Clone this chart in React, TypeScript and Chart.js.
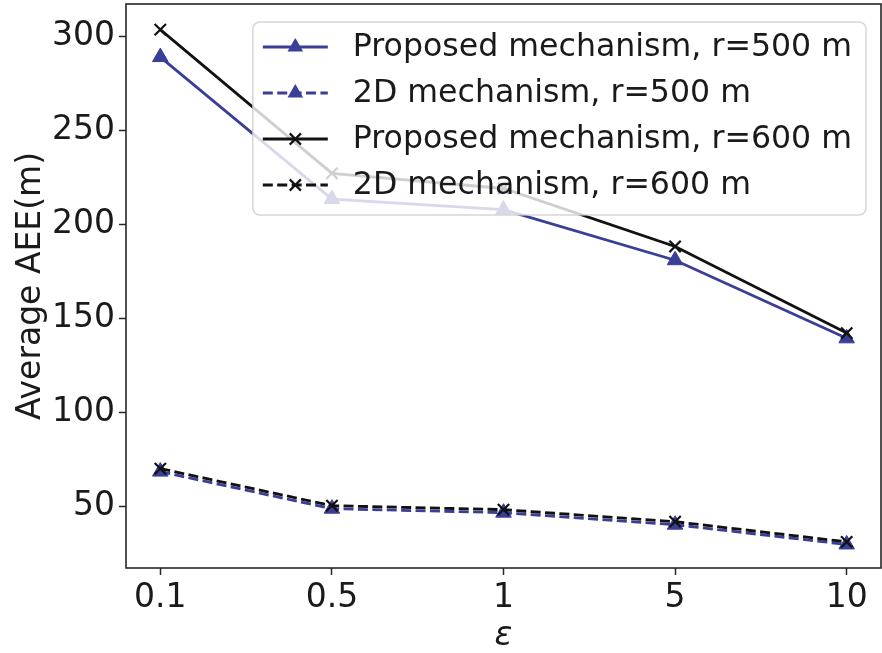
import { useEffect, useRef } from 'react';
import { Chart, registerables } from 'chart.js';

Chart.register(...registerables);

// Privacy budget values on the x axis
const EPSILON_LABELS = ['0.1', '0.5', '1', '5', '10'];

// Average AEE (m) for each mechanism / radius
const PROPOSED_R500 = [288.8, 213.4, 207.8, 180.9, 139.4];
const MECH2D_R500 = [68.6, 48.9, 46.8, 40.4, 29.9];
const PROPOSED_R600 = [303.4, 227.0, 219.0, 188.2, 142.2];
const MECH2D_R600 = [70.2, 50.5, 48.4, 42.0, 31.3];

const SERIES_NAMES = [
  'Proposed mechanism, r=500 m',
  '2D mechanism, r=500 m',
  'Proposed mechanism, r=600 m',
  '2D mechanism, r=600 m',
];

const Y_TICKS = [50, 100, 150, 200, 250, 300];
const Y_MIN = 17.4;
const Y_MAX = 317;

const BLUE = '#393e97';
const BLACK = '#111111';
const FONT = '"DejaVu Sans", sans-serif';
const LEGEND_FS = 31.6;
const AXIS_FS = 33;
const DASH = [10, 4.4];

type Style = { color: string; dashed: boolean; marker: 'triangle' | 'crossRot' };
const STYLES: Style[] = [
  { color: BLUE, dashed: false, marker: 'triangle' },
  { color: BLUE, dashed: true, marker: 'triangle' },
  { color: BLACK, dashed: false, marker: 'crossRot' },
  { color: BLACK, dashed: true, marker: 'crossRot' },
];
const SERIES = [PROPOSED_R500, MECH2D_R500, PROPOSED_R600, MECH2D_R600];

function drawMarker(ctx: CanvasRenderingContext2D, m: Style['marker'], x: number, y: number, color: string) {
  ctx.save();
  ctx.setLineDash([]);
  ctx.fillStyle = color;
  ctx.strokeStyle = color;
  if (m === 'triangle') {
    const r = 9;
    ctx.beginPath();
    for (let i = 0; i < 3; i++) {
      const a = -Math.PI / 2 + (i * 2 * Math.PI) / 3;
      const px = x + r * Math.cos(a);
      const py = y + r * Math.sin(a);
      if (i === 0) ctx.moveTo(px, py);
      else ctx.lineTo(px, py);
    }
    ctx.closePath();
    ctx.fill();
  } else {
    const d = 5.6;
    ctx.lineWidth = 2.2;
    ctx.beginPath();
    ctx.moveTo(x - d, y - d);
    ctx.lineTo(x + d, y + d);
    ctx.moveTo(x + d, y - d);
    ctx.lineTo(x - d, y + d);
    ctx.stroke();
  }
  ctx.restore();
}

// Axes frame plus an inset legend box drawn over the plot, matplotlib style
const framePlugin = {
  id: 'frameAndLegend',
  afterDraw(chart: Chart) {
    const ctx = chart.ctx;
    const { left, right, top, bottom } = chart.chartArea;
    ctx.save();
    ctx.strokeStyle = '#262626';
    ctx.lineWidth = 1.6;
    ctx.strokeRect(left, top, right - left, bottom - top);

    ctx.font = `${LEGEND_FS}px ${FONT}`;
    const textW = Math.max(...SERIES_NAMES.map((n) => ctx.measureText(n).width));
    const padL = 10;
    const handleLen = 65;
    const gap = 25;
    const padR = 14;
    const rowH = 46;
    const boxW = padL + handleLen + gap + textW + padR;
    const boxH = 193;
    const x1 = right - 15;
    const x0 = x1 - boxW;
    const y0 = top + 18;

    ctx.beginPath();
    ctx.roundRect(x0, y0, boxW, boxH, 7);
    ctx.fillStyle = 'rgba(255,255,255,0.8)';
    ctx.fill();
    ctx.strokeStyle = 'rgba(204,204,204,0.8)';
    ctx.lineWidth = 1.5;
    ctx.stroke();

    SERIES_NAMES.forEach((name, i) => {
      const st = STYLES[i];
      const cy = y0 + 25 + i * rowH;
      const hx0 = x0 + padL;
      const hx1 = hx0 + handleLen;
      ctx.save();
      ctx.strokeStyle = st.color;
      ctx.lineWidth = 2.8;
      ctx.setLineDash(st.dashed ? DASH : []);
      ctx.beginPath();
      ctx.moveTo(hx0, cy);
      ctx.lineTo(hx1, cy);
      ctx.stroke();
      ctx.restore();
      drawMarker(ctx, st.marker, (hx0 + hx1) / 2, cy, st.color);
      ctx.fillStyle = '#1a1a1a';
      ctx.textBaseline = 'middle';
      ctx.textAlign = 'left';
      ctx.fillText(name, hx1 + gap, cy + 1);
    });
    ctx.restore();
  },
};

const noEdgePadding = (scale: any) => {
  scale.paddingLeft = 0;
  scale.paddingRight = 0;
  scale.paddingTop = 0;
  scale.paddingBottom = 0;
};

export default function App() {
  const canvasRef = useRef<HTMLCanvasElement | null>(null);

  useEffect(() => {
    const canvas = canvasRef.current;
    if (!canvas) return;

    const datasets = SERIES.map((vals, i) => {
      const st = STYLES[i];
      return {
        label: SERIES_NAMES[i],
        data: vals.map((v, k) => ({ x: k, y: v })),
        borderColor: st.color,
        backgroundColor: st.color,
        borderWidth: 2.8,
        borderDash: st.dashed ? DASH : [],
        pointStyle: st.marker,
        pointRadius: st.marker === 'triangle' ? 9 : 8,
        pointBorderWidth: st.marker === 'triangle' ? 1 : 2.2,
        pointBackgroundColor: st.color,
        pointBorderColor: st.color,
        tension: 0,
        fill: false,
        order: SERIES.length - i,
      };
    });

    const chart = new Chart(canvas, {
      type: 'line',
      data: { datasets },
      options: {
        responsive: false,
        animation: false,
        devicePixelRatio: 1,
        layout: { autoPadding: false, padding: { left: 0, right: 1, top: 4, bottom: 0 } },
        plugins: {
          legend: { display: false },
          tooltip: { enabled: false },
        },
        scales: {
          x: {
            type: 'linear',
            min: -0.2,
            max: EPSILON_LABELS.length - 1 + 0.2,
            afterBuildTicks: (scale: any) => {
              scale.ticks = EPSILON_LABELS.map((_, k) => ({ value: k }));
            },
            afterFit: (scale: any) => {
              scale.height = 85;
              noEdgePadding(scale);
            },
            ticks: {
              callback: (v: any) => EPSILON_LABELS[Math.round(Number(v))] ?? '',
              font: { family: FONT, size: AXIS_FS },
              color: '#1a1a1a',
              padding: 4,
              maxRotation: 0,
              autoSkip: false,
            },
            grid: {
              drawOnChartArea: false,
              drawTicks: true,
              tickLength: 7,
              tickWidth: 1.5,
              tickColor: '#262626',
            },
            border: { display: false },
            title: {
              display: true,
              text: 'ε',
              font: { family: FONT, size: AXIS_FS, style: 'italic' },
              color: '#1a1a1a',
              padding: { top: 0, bottom: -3 },
            },
          },
          y: {
            type: 'linear',
            min: Y_MIN,
            max: Y_MAX,
            afterBuildTicks: (scale: any) => {
              scale.ticks = Y_TICKS.map((v) => ({ value: v }));
            },
            afterFit: (scale: any) => {
              scale.width = 126;
              noEdgePadding(scale);
            },
            ticks: {
              font: { family: FONT, size: AXIS_FS },
              color: '#1a1a1a',
              padding: 4,
            },
            grid: {
              drawOnChartArea: false,
              drawTicks: true,
              tickLength: 7,
              tickWidth: 1.5,
              tickColor: '#262626',
            },
            border: { display: false },
            title: {
              display: true,
              text: 'Average AEE(m)',
              font: { family: FONT, size: AXIS_FS },
              color: '#1a1a1a',
              padding: { top: 12, bottom: 0 },
            },
          },
        },
      },
      plugins: [framePlugin],
    });

    return () => chart.destroy();
  }, []);

  return (
    <div style={{ position: 'fixed', left: 0, top: 0, width: 882, height: 653, background: '#fff' }}>
      <canvas ref={canvasRef} width={882} height={653} style={{ display: 'block', width: 882, height: 653 }} />
    </div>
  );
}
